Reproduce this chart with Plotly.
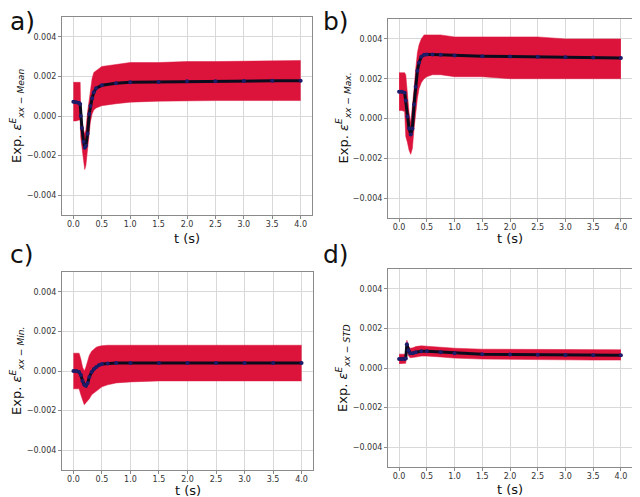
import plotly.graph_objects as go

# ---------------- data ----------------
# Panel a) Mean
t_a = [0.0, 0.05, 0.1, 0.12, 0.13, 0.15, 0.18, 0.2, 0.22, 0.25, 0.28, 0.3, 0.33, 0.36, 0.4, 0.5,
       0.75, 1.0, 1.5, 2.0, 2.5, 3.0, 3.5, 4.0]
mean_a = [0.00072, 0.0007, 0.00066, 0.0006, 0.0, -0.0006, -0.0013, -0.0016, -0.0015, -0.0009, 0.0001,
          0.0005, 0.0009, 0.0012, 0.0014, 0.00155, 0.00165, 0.0017, 0.00172, 0.00175, 0.00176,
          0.00177, 0.00178, 0.00178]
upper_a = [0.0017, 0.0017, 0.0017, 0.0017, 0.0001, -0.0003, -0.0007, -0.0009, -0.0007, 0.0002, 0.0009,
           0.0014, 0.0019, 0.0022, 0.0023, 0.0025, 0.0026, 0.0027, 0.0027, 0.00275, 0.00275,
           0.00277, 0.00278, 0.0028]
lower_a = [-0.00025, -0.00025, -0.0002, -0.0002, -0.0011, -0.0016, -0.0024, -0.0027, -0.0025, -0.0016,
           -0.0008, -0.0003, 0.0001, 0.0003, 0.0004, 0.00052, 0.00062, 0.0007, 0.00075, 0.00078,
           0.00078, 0.00078, 0.00078, 0.00078]

# Panel b) Max.
t_b = [0.0, 0.05, 0.1, 0.12, 0.15, 0.18, 0.21, 0.24, 0.27, 0.3, 0.33, 0.36, 0.4, 0.45, 0.5, 0.6,
       0.75, 1.0, 1.5, 2.0, 2.5, 3.0, 3.5, 4.0]
mean_b = [0.00135, 0.00135, 0.0013, 0.0009, 0.0001, -0.0005, -0.0008, -0.0005, 0.0007, 0.0016, 0.0024,
          0.0028, 0.0031, 0.0032, 0.00322, 0.00322, 0.0032, 0.00316, 0.00313, 0.00311, 0.0031,
          0.00308, 0.00306, 0.00304]
upper_b = [0.0023, 0.0023, 0.0023, 0.0022, 0.0012, 0.0003, -0.0002, 0.0005, 0.0015, 0.0025, 0.0033,
           0.0037, 0.0040, 0.0042, 0.0042, 0.0042, 0.0042, 0.0041, 0.0041, 0.0041, 0.0041,
           0.0040, 0.0040, 0.0040]
lower_b = [0.0004, 0.0004, 0.00035, -0.0009, -0.0012, -0.0016, -0.0018, -0.0015, -0.0005, 0.0003,
           0.0010, 0.0015, 0.0018, 0.0020, 0.0021, 0.0022, 0.0022, 0.0021, 0.0021, 0.0020, 0.0020,
           0.0020, 0.0020, 0.0020]

# Panel c) Min.
t_c = [0.0, 0.05, 0.1, 0.13, 0.16, 0.19, 0.22, 0.25, 0.28, 0.32, 0.36, 0.4, 0.45, 0.5, 0.6, 0.75,
       1.0, 1.5, 2.0, 2.5, 3.0, 3.5, 4.0]
mean_c = [0.0, 0.0, -0.00005, -0.0002, -0.0005, -0.0007, -0.00075, -0.0006, -0.0003, -0.00005, 0.0001,
          0.0002, 0.0003, 0.00035, 0.00038, 0.0004, 0.0004, 0.0004, 0.0004, 0.0004, 0.0004,
          0.0004, 0.0004]
upper_c = [0.0009, 0.0009, 0.0009, 0.0006, 0.0002, 0.0, 0.0002, 0.0005, 0.0008, 0.001, 0.0011, 0.0012,
           0.00125, 0.00128, 0.0013, 0.0013, 0.0013, 0.0013, 0.0013, 0.0013, 0.0013, 0.0013, 0.0013]
lower_c = [-0.0009, -0.0009, -0.0009, -0.0012, -0.0015, -0.0017, -0.0016, -0.0015, -0.0014, -0.0012,
           -0.0011, -0.001, -0.0009, -0.0008, -0.0007, -0.0006, -0.00055, -0.0005, -0.0005,
           -0.0005, -0.0005, -0.0005, -0.0005]

# Panel d) STD
t_d = [0.0, 0.05, 0.1, 0.12, 0.14, 0.17, 0.2, 0.25, 0.3, 0.4, 0.5, 0.75, 1.0, 1.5, 2.0, 2.5, 3.0,
       3.5, 4.0]
mean_d = [0.00045, 0.00045, 0.00046, 0.00048, 0.0012, 0.0009, 0.00075, 0.00075, 0.0008, 0.00085,
          0.00084, 0.0008, 0.00075, 0.0007, 0.00068, 0.00067, 0.00066, 0.00065, 0.00065]
upper_d = [0.0007, 0.0007, 0.0007, 0.0007, 0.0014, 0.0011, 0.001, 0.00102, 0.00108, 0.00112, 0.0011,
           0.00104, 0.001, 0.00095, 0.00094, 0.00093, 0.00092, 0.00092, 0.00092]
lower_d = [0.00022, 0.00022, 0.00022, 0.00024, 0.0009, 0.0006, 0.00052, 0.00052, 0.00055, 0.0006,
           0.0006, 0.00056, 0.0005, 0.00045, 0.00043, 0.00042, 0.00041, 0.0004, 0.0004]

panel_labels = ["a)", "b)", "c)", "d)"]
y_titles = ["Mean", "Max.", "Min.", "STD"]
x_title = "t (s)"
x_ticks = [0.0, 0.5, 1.0, 1.5, 2.0, 2.5, 3.0, 3.5, 4.0]
y_ticks = [-0.004, -0.002, 0.0, 0.002, 0.004]

# ---------------- layout geometry (page pixels) ----------------
OFF = 8                      # default body margin of the page
W, H = 640 - OFF, 497 - OFF  # figure size so that it fills the window
boxes = [  # x0, x1, y0(top), y1(bottom) in page pixels
    (62, 312, 17, 215),
    (388, 632, 19, 218),
    (62, 313, 272, 470),
    (388, 632, 269, 467),
]
xtitle_y = [238, 239, 490, 489]
label_pos = [(8, 22), (321, 22), (8, 254), (321, 254)]

def px(x):
    return (x - OFF) / W

def py(y):
    return 1 - (y - OFF) / H

RED = "#DC143C"
panels = [
    (t_a, mean_a, upper_a, lower_a),
    (t_b, mean_b, upper_b, lower_b),
    (t_c, mean_c, upper_c, lower_c),
    (t_d, mean_d, upper_d, lower_d),
]

fig = go.Figure()
annotations = []
for i, (t, m, up, lo) in enumerate(panels):
    n = "" if i == 0 else str(i + 1)
    xa, ya = "x" + n, "y" + n
    fig.add_trace(go.Scatter(x=t, y=up, mode="lines", line=dict(width=0.5, color=RED),
                             xaxis=xa, yaxis=ya, showlegend=False, hoverinfo="skip"))
    fig.add_trace(go.Scatter(x=t, y=lo, mode="lines", line=dict(width=0.5, color=RED),
                             fill="tonexty", fillcolor=RED,
                             xaxis=xa, yaxis=ya, showlegend=False, hoverinfo="skip"))
    fig.add_trace(go.Scatter(x=t, y=m, mode="lines+markers",
                             line=dict(width=3, color="#0b0b1e"),
                             marker=dict(size=4, color="#1c1c6b"),
                             xaxis=xa, yaxis=ya, showlegend=False))
    x0, x1, y0, y1 = boxes[i]
    axis_common = dict(showline=True, mirror=True, linecolor="#8a8a8a", linewidth=1,
                       showgrid=True, gridcolor="#d9d9d9", gridwidth=1,
                       ticks="outside", ticklen=3, tickcolor="#8a8a8a",
                       tickfont=dict(family="DejaVu Sans", size=8, color="#333333"),
                       zeroline=False)
    fig.layout["xaxis" + n] = dict(domain=[px(x0), px(x1)], anchor=ya, range=[-0.2, 4.2],
                                   tickvals=x_ticks, tickformat=".1f", ticklabelstandoff=-2,
                                   **axis_common)
    fig.layout["yaxis" + n] = dict(domain=[py(y1), py(y0)], anchor=xa, range=[-0.005, 0.005],
                                   tickvals=y_ticks, tickformat=".3f", **axis_common)
    cx = (x0 + x1) / 2
    cy = (y0 + y1) / 2
    annotations.append(dict(x=px(cx), y=py(xtitle_y[i]), xref="paper", yref="paper",
                            text=x_title, showarrow=False, xanchor="center", yanchor="middle",
                            font=dict(family="DejaVu Sans", size=13, color="#111111")))
    annotations.append(dict(x=px(x0 - 45), y=py(cy), xref="paper", yref="paper",
                            text="Exp. <i>ε</i><sup><i>E</i></sup><sub><i>xx − " + y_titles[i] + "</i></sub>",
                            textangle=-90, showarrow=False, xanchor="center", yanchor="middle",
                            font=dict(family="DejaVu Sans", size=13, color="#111111")))
    lx, ly = label_pos[i]
    annotations.append(dict(x=px(lx), y=py(ly), xref="paper", yref="paper",
                            text=panel_labels[i], showarrow=False, xanchor="left", yanchor="middle",
                            font=dict(family="DejaVu Sans", size=25, color="#111111")))

fig.update_layout(width=W, height=H, margin=dict(l=0, r=0, t=0, b=0),
                  paper_bgcolor="white", plot_bgcolor="white",
                  annotations=annotations)
fig.write_html("out.html")
